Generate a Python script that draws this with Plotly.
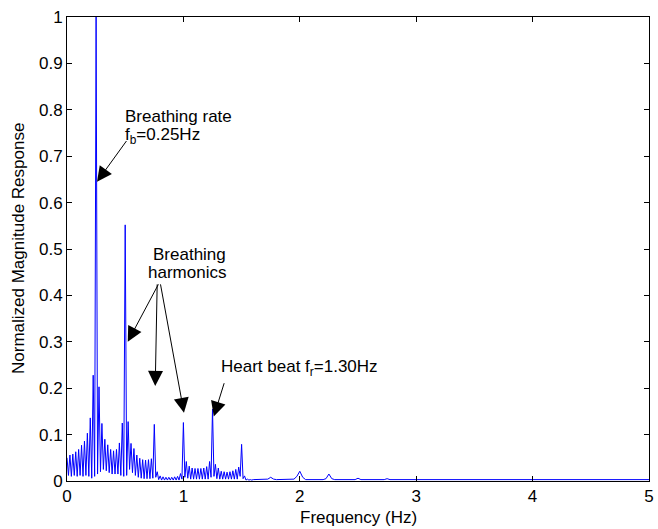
import plotly.graph_objects as go

# Spectrum lobes on a 0.025 Hz bin grid (0 .. 1.6 Hz): lobe tops and the dips between them
bin_step = 0.025
lobe_tops = [
    0.050, 0.056, 0.058, 0.063, 0.068, 0.077, 0.086, 0.103, 0.136, 0.228,
    1.000, 0.203, 0.124, 0.090, 0.078, 0.068, 0.065, 0.068, 0.082, 0.125,
    0.552, 0.128, 0.081, 0.070, 0.056, 0.049, 0.046, 0.045, 0.046, 0.048,
    0.122, 0.020, 0.011, 0.009, 0.008, 0.008, 0.008, 0.009, 0.010, 0.016,
    0.126, 0.042, 0.032, 0.028, 0.027, 0.027, 0.027, 0.028, 0.031, 0.042,
    0.155, 0.036, 0.028, 0.021, 0.020, 0.019, 0.020, 0.022, 0.025, 0.030,
    0.079, 0.011, 0.004, 0.003, 0.003,
]
lobe_dips = [
    0.012, 0.010, 0.012, 0.010, 0.012, 0.010, 0.012, 0.010, 0.006, 0.010,
    0.015, 0.020, 0.025, 0.022, 0.018, 0.015, 0.015, 0.015, 0.012, 0.010,
    0.012, 0.025, 0.018, 0.012, 0.008, 0.006, 0.005, 0.005, 0.005, 0.006,
    0.008, 0.003, 0.002, 0.002, 0.002, 0.002, 0.002, 0.002, 0.002, 0.004,
    0.008, 0.006, 0.004, 0.004, 0.004, 0.004, 0.004, 0.004, 0.004, 0.008,
    0.010, 0.005, 0.004, 0.004, 0.004, 0.004, 0.004, 0.004, 0.004, 0.010,
    0.005, 0.002, 0.002, 0.002,
]

# Upper band (above 1.6 Hz): almost flat with small bumps
tail_freq = [1.625, 1.7, 1.725, 1.75, 1.775, 1.8, 1.95, 1.975, 2.0, 2.025, 2.05,
             2.2, 2.225, 2.25, 2.275, 2.3, 2.475, 2.5, 2.525, 2.725, 2.75, 2.775, 5.0]
tail_mag = [0.003, 0.003, 0.004, 0.008, 0.004, 0.003, 0.004, 0.010, 0.021, 0.008, 0.003,
            0.003, 0.005, 0.015, 0.005, 0.003, 0.003, 0.006, 0.003, 0.003, 0.005, 0.003, 0.003]

freq, mag = [], []
for i, top in enumerate(lobe_tops):
    freq.append(i * bin_step)
    mag.append(top)
    if i < len(lobe_dips):
        freq.append(i * bin_step + bin_step / 2)
        mag.append(lobe_dips[i])
freq += tail_freq
mag += tail_mag

x_ticks = [0, 1, 2, 3, 4, 5]
y_ticks = [0, 0.1, 0.2, 0.3, 0.4, 0.5, 0.6, 0.7, 0.8, 0.9, 1]
y_tick_text = ["0", "0.1", "0.2", "0.3", "0.4", "0.5", "0.6", "0.7", "0.8", "0.9", "1"]

FONT = "Liberation Sans, Arial, Helvetica, sans-serif"
FS = 17

fig = go.Figure()
fig.add_trace(go.Scatter(x=freq, y=mag, mode="lines",
                         line=dict(color="#0000ff", width=1), hoverinfo="skip"))

axis_common = dict(showline=True, linecolor="black", linewidth=1, mirror="ticks",
                   ticks="inside", ticklen=5, tickcolor="black", tickwidth=1,
                   showgrid=False, zeroline=False, ticklabeloverflow="allow",
                   tickfont=dict(family=FONT, size=FS, color="black"))
fig.update_xaxes(range=[0, 5], tickvals=x_ticks, **axis_common)
fig.update_yaxes(range=[0, 1], tickvals=y_ticks, ticktext=y_tick_text, **axis_common)

def arrow(xh, yh, xt, yt):
    fig.add_annotation(x=xh, y=yh, ax=xt, ay=yt, xref="x", yref="y", axref="x", ayref="y",
                       text="", showarrow=True, arrowhead=2, arrowsize=3, arrowwidth=1,
                       arrowcolor="black", standoff=0, startstandoff=0)

def label(x, y, text):
    fig.add_annotation(x=x, y=y, xref="x", yref="y", text=text, showarrow=False,
                       xanchor="left", yanchor="middle", borderpad=0, borderwidth=0,
                       font=dict(family=FONT, size=FS, color="black"))

# Breathing rate
label(0.50, 0.786, "Breathing rate")
label(0.50, 0.744, "f<sub>b</sub>=0.25Hz")
arrow(0.258, 0.645, 0.52, 0.736)

# Breathing harmonics
label(0.735, 0.489, "Breathing")
label(0.70, 0.450, "harmonics")
arrow(0.522, 0.300, 0.792, 0.427)
arrow(0.758, 0.205, 0.775, 0.427)
arrow(1.005, 0.147, 0.801, 0.427)

# Heart beat
label(1.325, 0.243, "Heart beat f<sub>r</sub>=1.30Hz")
arrow(1.261, 0.139, 1.354, 0.214)

# Axis titles
fig.add_annotation(xref="paper", yref="paper", x=0.5, y=0, yshift=-25,
                   text="Frequency (Hz)", showarrow=False, xanchor="center", yanchor="top",
                   font=dict(family=FONT, size=FS, color="black"))
fig.add_annotation(xref="paper", yref="paper", x=0, y=0.5, xshift=-49,
                   text="Normalized Magnitude Response", showarrow=False, textangle=-90,
                   xanchor="center", yanchor="middle",
                   font=dict(family=FONT, size=FS, color="black"))

fig.update_layout(width=658, height=529, margin=dict(l=67, r=4, t=17, b=48),
                  paper_bgcolor="white", plot_bgcolor="white", showlegend=False,
                  font=dict(family=FONT, size=FS, color="black"))

fig.write_html("out.html")
